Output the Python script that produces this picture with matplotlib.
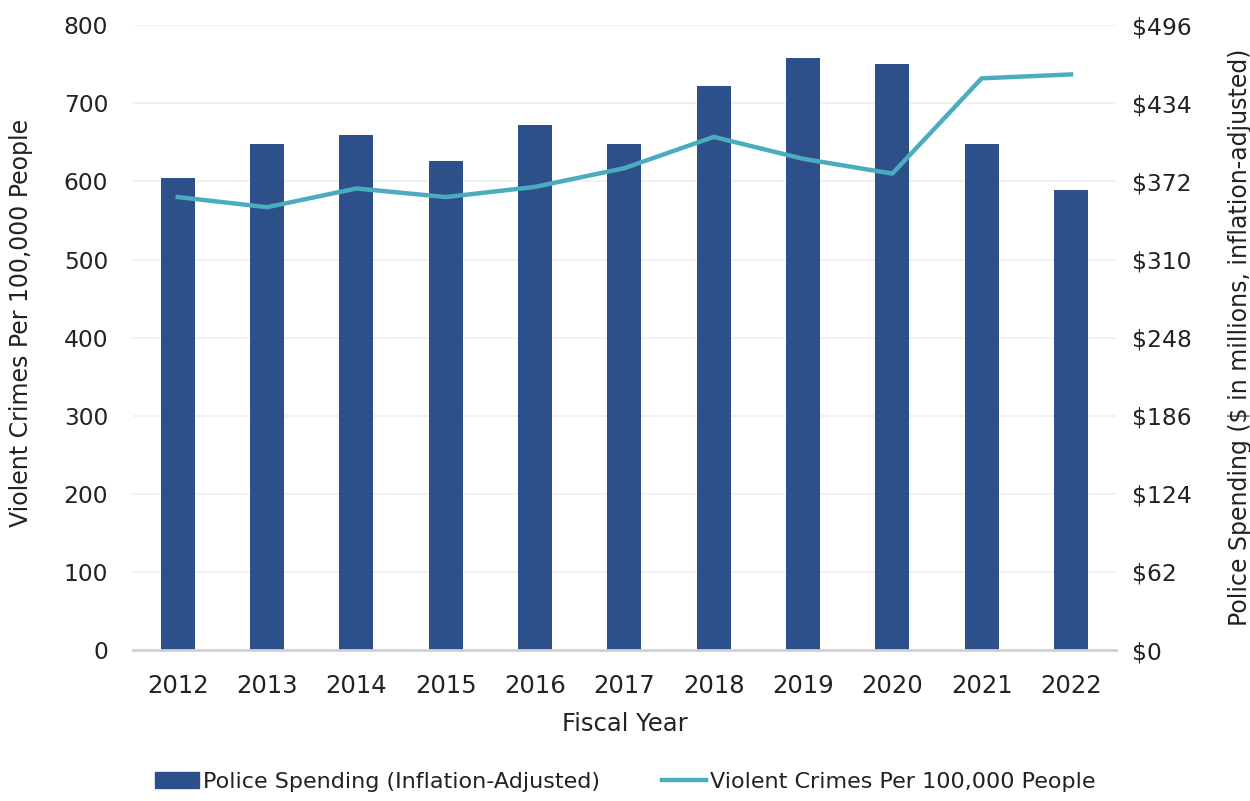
import matplotlib
matplotlib.use("Agg")
import matplotlib.pyplot as plt
from matplotlib.patches import Patch
from matplotlib.lines import Line2D

years = ["2012", "2013", "2014", "2015", "2016", "2017", "2018", "2019", "2020", "2021", "2022"]
police_spending = [375, 402, 409, 388, 417, 402, 448, 470, 465, 402, 365]  # $ millions
violent_crimes = [580, 567, 591, 580, 593, 617, 657, 629, 610, 732, 737]  # per 100,000
left_ticks = [0, 100, 200, 300, 400, 500, 600, 700, 800]
right_ticks = [0, 62, 124, 186, 248, 310, 372, 434, 496]

bar_color = "#2D4F8A"
line_color = "#4BACBF"
text_color = "#222222"
font = ["DejaVu Sans"]

fig = plt.figure(figsize=(12.5, 8.01), dpi=100)
ax = fig.add_axes([0.1065, 0.1885, 0.786, 0.780])
ax2 = ax.twinx()

x = list(range(len(years)))

# bars on the spending axis (right), line on the crime axis (left)
ax2.bar(x, police_spending, width=0.38, color=bar_color, zorder=2)
ax.plot(x, violent_crimes, color=line_color, linewidth=3.2, zorder=3)

ax.set_zorder(ax2.get_zorder() + 1)
ax.patch.set_visible(False)

ax.set_ylim(0, 800)
ax2.set_ylim(0, 496)
ax.set_xlim(-0.5, len(years) - 0.5)

ax.set_yticks(left_ticks)
ax.set_yticklabels([str(t) for t in left_ticks], fontsize=16.8, family=font, color=text_color)
ax2.set_yticks(right_ticks)
ax2.set_yticklabels([f"${t}" for t in right_ticks], fontsize=16.8, family=font, color=text_color)

ax.set_xticks(x)
ax.set_xticklabels(years, fontsize=17.5, family=font, color=text_color)

for a in (ax, ax2):
    for s in ("top", "left", "right"):
        a.spines[s].set_visible(False)
    a.tick_params(axis="both", length=0)
ax2.spines["bottom"].set_visible(False)
ax.spines["bottom"].set_color("#D0D0D0")
ax.spines["bottom"].set_linewidth(2)

ax2.grid(False)
for t in left_ticks[1:]:
    ax2.axhline(t * 496 / 800, color="#EFEFEF", linewidth=1.2, zorder=0)

ax.tick_params(axis="y", pad=18)
ax2.tick_params(axis="y", pad=12)
ax.tick_params(axis="x", pad=17)

ax.set_ylabel("Violent Crimes Per 100,000 People", fontsize=17.0, family=font, color=text_color)
ax.yaxis.set_label_coords(-0.102, 0.523)
ax2.set_ylabel("Police Spending ($ in millions, inflation-adjusted)", fontsize=17.0, family=font,
               labelpad=26, color=text_color)
ax.set_xlabel("Fiscal Year", fontsize=17.5, family=font, labelpad=10, color=text_color)

handles = [
    Patch(facecolor=bar_color, edgecolor=bar_color, label="Police Spending (Inflation-Adjusted)"),
    Line2D([0], [0], color=line_color, linewidth=3.2, label="Violent Crimes Per 100,000 People"),
]
fig.legend(handles=handles, loc="center", bbox_to_anchor=(0.5, 0.024), ncol=2, frameon=False,
           prop={"family": font, "size": 16}, handlelength=2.0, handletextpad=0.15, columnspacing=2.8,
           labelcolor=text_color)

fig.savefig("out.png", dpi=100)
